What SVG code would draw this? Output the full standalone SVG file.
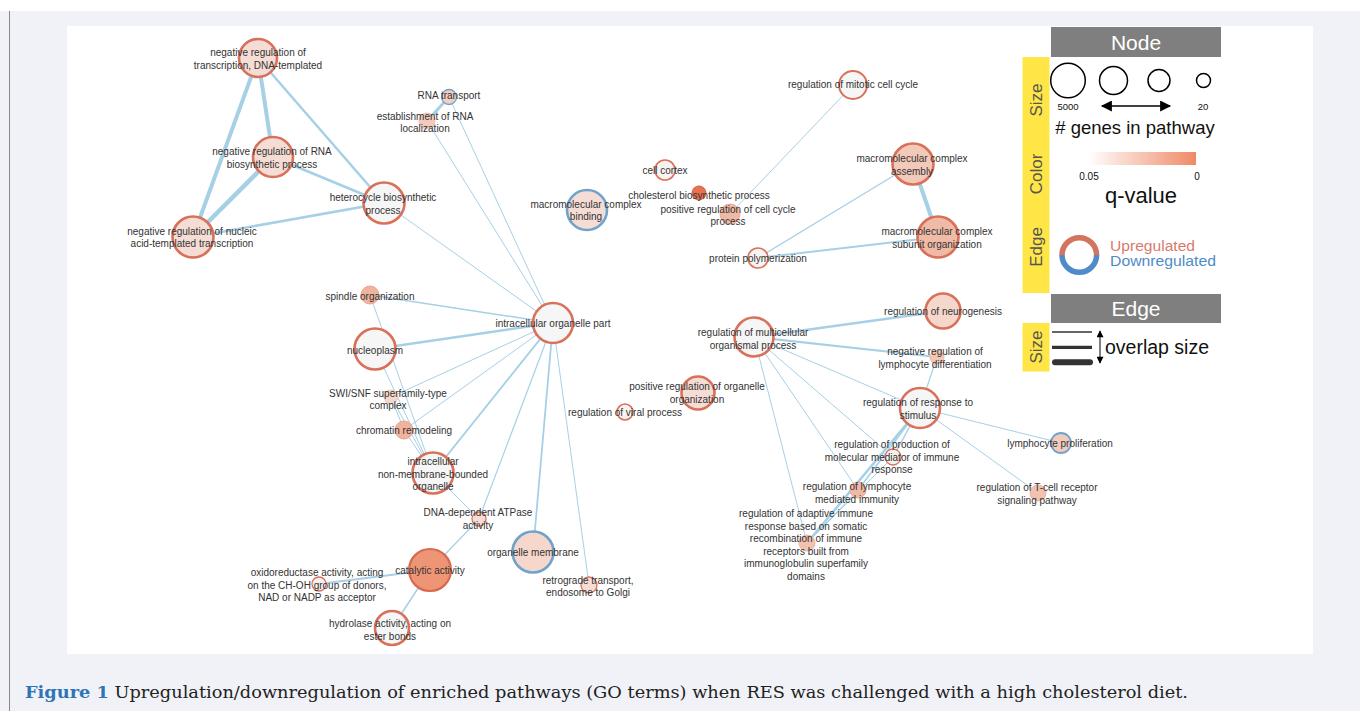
<svg xmlns="http://www.w3.org/2000/svg" width="1360" height="711" viewBox="0 0 1360 711">
<defs>
<style>
.e{stroke:#a6d0e6;fill:none;stroke-linecap:round}
.up{stroke:#d9705a}
.dn{stroke:#6fa3cc}
.big{stroke-width:2.6}
.sm{stroke-width:1.3}
.lbl{font-family:"Liberation Sans",Arial,sans-serif;font-size:10px;fill:#333;text-anchor:middle}
.hdr{font-family:"Liberation Sans",Arial,sans-serif;font-size:21px;fill:#fff;text-anchor:middle}
.side{font-family:"Liberation Sans",Arial,sans-serif;font-size:17px;fill:#555;text-anchor:middle}
.lg{font-family:"Liberation Sans",Arial,sans-serif;fill:#111;text-anchor:middle}
</style>
<linearGradient id="qg" x1="0" y1="0" x2="1" y2="0">
<stop offset="0" stop-color="#ffffff"/>
<stop offset="1" stop-color="#ef8a66"/>
</linearGradient>
<marker id="ah" viewBox="0 0 10 10" refX="9" refY="5" markerWidth="10" markerHeight="7" markerUnits="userSpaceOnUse" orient="auto-start-reverse">
<path d="M0,0L10,5L0,10z" fill="#000"/>
</marker>
<marker id="ah2" viewBox="0 0 10 10" refX="9" refY="5" markerWidth="16" markerHeight="11" markerUnits="userSpaceOnUse" orient="auto-start-reverse">
<path d="M0,0L10,5L0,10z" fill="#000"/>
</marker>
</defs>
<rect x="0" y="0" width="1360" height="711" fill="#ffffff"/>
<rect x="0" y="11" width="1360" height="700" fill="#f1f2f7"/>
<line x1="9.5" y1="11" x2="9.5" y2="711" stroke="#888" stroke-width="1"/>
<rect x="67" y="26" width="1246" height="628" fill="#ffffff"/>

<g id="connectors">
<line class="e" x1="258" y1="58" x2="273" y2="157" stroke-width="4"/>
<line class="e" x1="258" y1="58" x2="193" y2="237" stroke-width="4"/>
<line class="e" x1="273" y1="157" x2="193" y2="237" stroke-width="4.5"/>
<line class="e" x1="258" y1="58" x2="384" y2="203" stroke-width="2.5"/>
<line class="e" x1="273" y1="157" x2="384" y2="203" stroke-width="2.5"/>
<line class="e" x1="193" y1="237" x2="384" y2="203" stroke-width="2.5"/>
<line class="e" x1="384" y1="203" x2="553" y2="323" stroke-width="1"/>
<line class="e" x1="449" y1="97" x2="427" y2="121" stroke-width="3"/>
<line class="e" x1="427" y1="121" x2="553" y2="323" stroke-width="1"/>
<line class="e" x1="449" y1="97" x2="553" y2="323" stroke-width="1"/>
<line class="e" x1="370" y1="295" x2="553" y2="323" stroke-width="1.5"/>
<line class="e" x1="370" y1="295" x2="433" y2="473" stroke-width="1"/>
<line class="e" x1="375" y1="349" x2="553" y2="323" stroke-width="2.5"/>
<line class="e" x1="375" y1="349" x2="433" y2="473" stroke-width="1"/>
<line class="e" x1="391" y1="397" x2="553" y2="323" stroke-width="1"/>
<line class="e" x1="391" y1="397" x2="404" y2="430" stroke-width="1"/>
<line class="e" x1="391" y1="397" x2="433" y2="473" stroke-width="1"/>
<line class="e" x1="404" y1="430" x2="553" y2="323" stroke-width="1"/>
<line class="e" x1="404" y1="430" x2="433" y2="473" stroke-width="1"/>
<line class="e" x1="433" y1="473" x2="553" y2="323" stroke-width="2"/>
<line class="e" x1="433" y1="473" x2="479" y2="519" stroke-width="1"/>
<line class="e" x1="479" y1="519" x2="553" y2="323" stroke-width="1.2"/>
<line class="e" x1="533" y1="552" x2="553" y2="323" stroke-width="1.8"/>
<line class="e" x1="589" y1="585" x2="553" y2="323" stroke-width="1"/>
<line class="e" x1="430" y1="570" x2="479" y2="519" stroke-width="1.2"/>
<line class="e" x1="430" y1="570" x2="319" y2="584" stroke-width="2"/>
<line class="e" x1="430" y1="570" x2="392" y2="628" stroke-width="1.5"/>
<line class="e" x1="853" y1="85" x2="730" y2="214" stroke-width="1"/>
<line class="e" x1="913" y1="164" x2="938" y2="237" stroke-width="4"/>
<line class="e" x1="913" y1="164" x2="758" y2="258" stroke-width="1.2"/>
<line class="e" x1="938" y1="237" x2="758" y2="258" stroke-width="2"/>
<line class="e" x1="754" y1="337" x2="943" y2="311" stroke-width="2.5"/>
<line class="e" x1="754" y1="337" x2="937" y2="357" stroke-width="2"/>
<line class="e" x1="754" y1="337" x2="920" y2="408" stroke-width="1"/>
<line class="e" x1="754" y1="337" x2="893" y2="457" stroke-width="1"/>
<line class="e" x1="754" y1="337" x2="858" y2="490" stroke-width="1"/>
<line class="e" x1="754" y1="337" x2="807" y2="543" stroke-width="1"/>
<line class="e" x1="937" y1="357" x2="920" y2="408" stroke-width="1.2"/>
<line class="e" x1="920" y1="408" x2="1061" y2="443" stroke-width="1"/>
<line class="e" x1="920" y1="408" x2="1038" y2="493" stroke-width="1"/>
<line class="e" x1="920" y1="408" x2="893" y2="457" stroke-width="1.5"/>
<line class="e" x1="920" y1="408" x2="858" y2="490" stroke-width="1.5"/>
<line class="e" x1="920" y1="408" x2="807" y2="543" stroke-width="2.5"/>
<line class="e" x1="893" y1="457" x2="807" y2="543" stroke-width="1"/>
<line class="e" x1="858" y1="490" x2="807" y2="543" stroke-width="1"/>
</g>

<g id="n1"><circle cx="258" cy="58" r="19" fill="#f5ddd5" class="up big"/><text class="lbl"><tspan x="258" y="56">negative regulation of</tspan><tspan x="258" y="69">transcription, DNA-templated</tspan></text></g>
<g id="n2"><circle cx="273" cy="157" r="20" fill="#f5ddd5" class="up big"/><text class="lbl"><tspan x="272" y="155">negative regulation of RNA</tspan><tspan x="272" y="167.5">biosynthetic process</tspan></text></g>
<g id="n3"><circle cx="384" cy="203" r="20.5" fill="#f6f6f6" class="up big"/><text class="lbl"><tspan x="383" y="201">heterocycle biosynthetic</tspan><tspan x="383" y="213.5">process</tspan></text></g>
<g id="n4"><circle cx="193" cy="237" r="20.5" fill="#f5ddd5" class="up big"/><text class="lbl"><tspan x="192" y="234.5">negative regulation of nucleic</tspan><tspan x="192" y="247">acid-templated transcription</tspan></text></g>
<g id="n5"><circle cx="449" cy="97" r="7.5" fill="#f3cfc2" class="dn sm"/><text class="lbl" x="449" y="99">RNA transport</text></g>
<g id="n6"><circle cx="427" cy="121" r="8" fill="#f3cbbd" stroke="#f0c4b4" stroke-width="1"/><text class="lbl"><tspan x="425" y="119.5">establishment of RNA</tspan><tspan x="425" y="132">localization</tspan></text></g>
<g id="n7"><circle cx="553" cy="323" r="20" fill="#f6f6f6" class="up big"/><text class="lbl" x="553" y="327">intracellular organelle part</text></g>
<g id="n8"><circle cx="370" cy="295" r="9" fill="#efb39e" stroke="#e8a58e" stroke-width="1"/><text class="lbl" x="370" y="299.5">spindle organization</text></g>
<g id="n9"><circle cx="375" cy="349" r="20.5" fill="#f6f6f6" class="up big"/><text class="lbl" x="375" y="353.5">nucleoplasm</text></g>
<g id="n10"><circle cx="391" cy="397" r="7" fill="#f5d7cb" stroke="#f0cbbd" stroke-width="1"/><text class="lbl"><tspan x="388" y="397">SWI/SNF superfamily-type</tspan><tspan x="388" y="409">complex</tspan></text></g>
<g id="n11"><circle cx="404" cy="430" r="9" fill="#efb39e" stroke="#e8a58e" stroke-width="1"/><text class="lbl" x="404" y="434">chromatin remodeling</text></g>
<g id="n12"><circle cx="433" cy="473" r="20.5" fill="#f6f6f6" class="up big"/><text class="lbl"><tspan x="433" y="465">intracellular</tspan><tspan x="433" y="477.5">non-membrane-bounded</tspan><tspan x="433" y="490">organelle</tspan></text></g>
<g id="n13"><circle cx="479" cy="519" r="7" fill="#f5ddd5" class="up sm"/><text class="lbl"><tspan x="478" y="516">DNA-dependent ATPase</tspan><tspan x="478" y="528.5">activity</tspan></text></g>
<g id="n14"><circle cx="430" cy="570" r="21" fill="#ee9575" stroke="#d6694f" stroke-width="2.2"/><text class="lbl" x="430" y="573.5">catalytic activity</text></g>
<g id="n15"><circle cx="533" cy="552" r="20.5" fill="#f5d7cb" class="dn big"/><text class="lbl" x="533" y="555.5">organelle membrane</text></g>
<g id="n16"><circle cx="589" cy="585" r="8" fill="#f5ddd5" class="up sm"/><text class="lbl"><tspan x="588" y="583.5">retrograde transport,</tspan><tspan x="588" y="596">endosome to Golgi</tspan></text></g>
<g id="n17"><circle cx="319" cy="584" r="7" fill="#f7f0ee" class="up sm"/><text class="lbl"><tspan x="317" y="576">oxidoreductase activity, acting</tspan><tspan x="317" y="588.5">on the CH-OH group of donors,</tspan><tspan x="317" y="601">NAD or NADP as acceptor</tspan></text></g>
<g id="n18"><circle cx="392" cy="628" r="17" fill="#f6f6f6" class="up big"/><text class="lbl"><tspan x="390" y="627">hydrolase activity, acting on</tspan><tspan x="390" y="639.5">ester bonds</tspan></text></g>
<g id="n19"><circle cx="853" cy="85" r="14" fill="#f6f6f6" class="up" stroke-width="2"/><text class="lbl" x="853" y="87.5">regulation of mitotic cell cycle</text></g>
<g id="n20"><circle cx="665" cy="170" r="10" fill="#f7f3f2" class="up" stroke-width="1.6"/><text class="lbl" x="665" y="174">cell cortex</text></g>
<g id="n21"><circle cx="587" cy="210" r="20" fill="#f5ddd5" class="dn big"/><text class="lbl"><tspan x="586" y="207.5">macromolecular complex</tspan><tspan x="586" y="220">binding</tspan></text></g>
<g id="n22"><circle cx="699" cy="193" r="7" fill="#e8714f" stroke="#d2603f" stroke-width="1"/><text class="lbl" x="699" y="198.5">cholesterol biosynthetic process</text></g>
<g id="n23"><circle cx="730" cy="214" r="10" fill="#efb9a5" stroke="#e9ab95" stroke-width="1"/><text class="lbl"><tspan x="728" y="212.5">positive regulation of cell cycle</tspan><tspan x="728" y="225">process</tspan></text></g>
<g id="n24"><circle cx="913" cy="164" r="20.5" fill="#f3c9b9" class="up big"/><text class="lbl"><tspan x="912" y="162">macromolecular complex</tspan><tspan x="912" y="174.5">assembly</tspan></text></g>
<g id="n25"><circle cx="938" cy="237" r="20.5" fill="#f0bba6" class="up big"/><text class="lbl"><tspan x="937" y="235">macromolecular complex</tspan><tspan x="937" y="247.5">subunit organization</tspan></text></g>
<g id="n26"><circle cx="758" cy="258" r="10" fill="#f7f3f2" class="up" stroke-width="1.6"/><text class="lbl" x="758" y="262">protein polymerization</text></g>
<g id="n27"><circle cx="754" cy="337" r="19.5" fill="#f6f6f6" class="up big"/><text class="lbl"><tspan x="753" y="336">regulation of multicellular</tspan><tspan x="753" y="348.5">organismal process</tspan></text></g>
<g id="n28"><circle cx="943" cy="311" r="17.5" fill="#f5d7cb" class="up big"/><text class="lbl" x="943" y="315">regulation of neurogenesis</text></g>
<g id="n29"><circle cx="937" cy="357" r="7" fill="#f3c6b5" stroke="#ecb8a6" stroke-width="1"/><text class="lbl"><tspan x="935" y="355">negative regulation of</tspan><tspan x="935" y="367.5">lymphocyte differentiation</tspan></text></g>
<g id="n30"><circle cx="920" cy="408" r="20" fill="#f6f6f6" class="up big"/><text class="lbl"><tspan x="918" y="406">regulation of response to</tspan><tspan x="918" y="418.5">stimulus</tspan></text></g>
<g id="n31"><circle cx="698" cy="393" r="16.5" fill="#f5ddd5" class="up big"/><text class="lbl"><tspan x="697" y="390">positive regulation of organelle</tspan><tspan x="697" y="402.5">organization</tspan></text></g>
<g id="n32"><circle cx="625" cy="412" r="8" fill="#f7f3f2" class="up" stroke-width="1.6"/><text class="lbl" x="625" y="416">regulation of viral process</text></g>
<g id="n33"><circle cx="1061" cy="443" r="10" fill="#f2cbbd" class="dn" stroke-width="1.8"/><text class="lbl" x="1060" y="447">lymphocyte proliferation</text></g>
<g id="n34"><circle cx="893" cy="457" r="8" fill="#f7f0ee" class="up sm"/><text class="lbl"><tspan x="892" y="448">regulation of production of</tspan><tspan x="892" y="460.5">molecular mediator of immune</tspan><tspan x="892" y="473">response</tspan></text></g>
<g id="n35"><circle cx="858" cy="490" r="8" fill="#efb9a5" stroke="#e9ab95" stroke-width="1"/><text class="lbl"><tspan x="857" y="490">regulation of lymphocyte</tspan><tspan x="857" y="502.5">mediated immunity</tspan></text></g>
<g id="n36"><circle cx="1038" cy="493" r="8" fill="#f2c2b1" stroke="#ebb5a3" stroke-width="1"/><text class="lbl"><tspan x="1037" y="491">regulation of T-cell receptor</tspan><tspan x="1037" y="503.5">signaling pathway</tspan></text></g>
<g id="n37"><circle cx="807" cy="543" r="8" fill="#f2c2b1" stroke="#ebb5a3" stroke-width="1"/><text class="lbl"><tspan x="806" y="517">regulation of adaptive immune</tspan><tspan x="806" y="529.5">response based on somatic</tspan><tspan x="806" y="542">recombination of immune</tspan><tspan x="806" y="554.5">receptors built from</tspan><tspan x="806" y="567">immunoglobulin superfamily</tspan><tspan x="806" y="579.5">domains</tspan></text></g>

<g id="legend">
<rect x="1051" y="27" width="170" height="30" fill="#7f7f7f"/>
<text class="hdr" x="1136" y="50">Node</text>
<rect x="1022.5" y="57" width="27" height="236" fill="#ffe545"/>
<text class="side" transform="translate(1036,100) rotate(-90)" dy="6">Size</text>
<text class="side" transform="translate(1036,174) rotate(-90)" dy="6">Color</text>
<text class="side" transform="translate(1036,247) rotate(-90)" dy="6">Edge</text>
<circle cx="1068" cy="80.5" r="17.3" fill="none" stroke="#000" stroke-width="1.5"/>
<circle cx="1113.5" cy="80.5" r="14" fill="none" stroke="#000" stroke-width="1.5"/>
<circle cx="1159" cy="80.5" r="11" fill="none" stroke="#000" stroke-width="1.5"/>
<circle cx="1203.5" cy="80.5" r="7" fill="none" stroke="#000" stroke-width="1.5"/>
<text class="lg" x="1068" y="109.5" font-size="9.5">5000</text>
<text class="lg" x="1203" y="109.5" font-size="9.5">20</text>
<line x1="1102" y1="106" x2="1170" y2="106" stroke="#000" stroke-width="1.5" marker-start="url(#ah2)" marker-end="url(#ah2)"/>
<text class="lg" x="1135" y="134" font-size="18.5">#&#160;genes in pathway</text>
<rect x="1088" y="152" width="108" height="13" fill="url(#qg)"/>
<text class="lg" x="1089" y="180" font-size="10">0.05</text>
<text class="lg" x="1197" y="180" font-size="10">0</text>
<text class="lg" x="1141" y="203" font-size="22">q-value</text>
<path d="M1062,255 A17.3,17.3 0 0 1 1096.6,255" fill="none" stroke="#d4745f" stroke-width="5.5"/>
<path d="M1062,255 A17.3,17.3 0 0 0 1096.6,255" fill="none" stroke="#4f8bc9" stroke-width="5.5"/>
<text x="1110" y="250.5" font-family="Liberation Sans, Arial, sans-serif" font-size="13.8" fill="#d77b6e" textLength="85" lengthAdjust="spacingAndGlyphs">Upregulated</text>
<text x="1110" y="266" font-family="Liberation Sans, Arial, sans-serif" font-size="13.8" fill="#4f8bc9" textLength="106" lengthAdjust="spacingAndGlyphs">Downregulated</text>
<rect x="1051" y="294" width="170" height="29" fill="#7f7f7f"/>
<text class="hdr" x="1136" y="316">Edge</text>
<rect x="1022.5" y="323" width="27" height="48.5" fill="#ffe545"/>
<text class="side" transform="translate(1036,347) rotate(-90)" dy="6">Size</text>
<line x1="1052" y1="332" x2="1092" y2="332" stroke="#333" stroke-width="1.7"/>
<line x1="1052" y1="347.3" x2="1092" y2="347.3" stroke="#333" stroke-width="3.3"/>
<line x1="1055" y1="362.3" x2="1090" y2="362.3" stroke="#333" stroke-width="6" stroke-linecap="round"/>
<line x1="1100" y1="331" x2="1100" y2="363" stroke="#000" stroke-width="1" marker-start="url(#ah)" marker-end="url(#ah)"/>
<text class="lg" x="1157" y="354" font-size="19.5">overlap size</text>
</g>

<text x="25" y="698" font-family="DejaVu Serif, Liberation Serif, serif" font-size="17" fill="#222" textLength="1163" lengthAdjust="spacingAndGlyphs"><tspan font-weight="bold" fill="#2e74b5">Figure 1</tspan> Upregulation/downregulation of enriched pathways (GO terms) when RES was challenged with a high cholesterol diet.</text>
</svg>
